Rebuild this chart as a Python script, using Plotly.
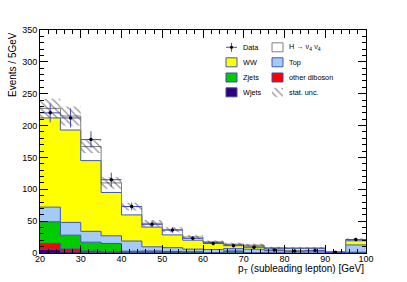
import plotly.graph_objects as go
import numpy as np

# ---------------- data ----------------
bin_edges = [20, 25, 30, 35, 40, 45, 50, 55, 60, 65, 70, 75, 80, 85, 90, 95, 100]
wjets    = [6, 1.5, 0.5, 0.3, 0.3, 0.2, 0.1, 0.1, 0.1, 0.1, 0.1, 0.0, 0.0, 0.0, 0.3, 0.5]
diboson  = [9, 5, 2.5, 1.7, 1.0, 0.5, 0.3, 0.2, 0.1, 0.1, 0.1, 0.1, 0.0, 0.0, 0.0, 0.2]
zjets    = [34, 21.5, 14, 13, 1.5, 2.5, 2, 1.8, 0.3, 3, 0.2, 0.2, 0.1, 0.1, 0.0, 0.5]
top      = [23, 20, 17, 12, 16, 6.5, 6, 4, 5, 3.7, 5.5, 3.3, 3, 3, 1, 11.5]
ww       = [140, 145, 111, 68, 41, 31, 20, 14, 11, 6, 5, 3.7, 4, 4, 0.3, 6.5]
higgs    = [15, 22, 22, 15, 13, 6, 8, 5, 1, 1, 1.5, 1, 1, 1, 0.3, 2]
stat_unc = [15, 15, 10, 9, 6, 5, 4, 3, 2, 2, 2, 1.5, 1, 1, 0.5, 2]
data     = [220, 212, 178, 115, 73, 45, 36, 23, 15, 11.5, 9, 4.7, 3, 4, 1, 21]
data_err = [15, 15, 13, 11, 6, 5, 4.5, 3.5, 3, 2.5, 2, 1.5, 1, 1.5, 1, 3]
x_ticks  = [20, 30, 40, 50, 60, 70, 80, 90, 100]
y_ticks  = [0, 50, 100, 150, 200, 250, 300, 350]

# ---------------- layout geometry ----------------
W, H = 407, 282
L, R, T, B = 40, 41, 30, 29
PW, PH = W - L - R, H - T - B
XMIN, XMAX, YMIN, YMAX = 20, 100, 0, 350

def px2paper(px, py):
    return (px - L) / PW, (H - B - py) / PH

def px2data(px, py):
    return XMIN + (px - L) / PW * (XMAX - XMIN), YMIN + (H - B - py) / PH * (YMAX - YMIN)

edges = np.array(bin_edges, dtype=float)
centers = (edges[:-1] + edges[1:]) / 2
halfw = (edges[1:] - edges[:-1]) / 2

def step(vals):
    v = list(vals)
    return v + [v[-1]]

HATCH = dict(shape="\\", fgcolor="#2a2a2a", bgcolor="rgba(0,0,0,0)", size=5, solidity=0.28)

fig = go.Figure()

layers = [
    ("Wjets", wjets, "#330077", "#3c4ca8"),
    ("other diboson", diboson, "#ff0000", "#3c4ca8"),
    ("Zjets", zjets, "#00cc00", "#3c4ca8"),
    ("Top", top, "#a3cbf5", "#3c5ab8"),
    ("WW", ww, "#ffff00", "#3c5ab8"),
    ("H", higgs, "#ffffff", "#808080"),
]
cum = np.zeros(len(centers))
for i, (name, vals, fc, lc) in enumerate(layers):
    cum = cum + np.array(vals, dtype=float)
    fig.add_trace(go.Scatter(
        x=edges, y=step(cum), mode="lines", line=dict(shape="hv", color=lc, width=1),
        fill="tozeroy" if i == 0 else "tonexty", fillcolor=fc, showlegend=False,
        hoverinfo="skip"))
total = cum

# stat uncertainty band (hatched)
lo = total - np.array(stat_unc)
hi = total + np.array(stat_unc)
fig.add_trace(go.Scatter(x=edges, y=step(lo), mode="lines",
                         line=dict(shape="hv", width=0, color="rgba(0,0,0,0)"),
                         showlegend=False, hoverinfo="skip"))
fig.add_trace(go.Scatter(x=edges, y=step(hi), mode="lines",
                         line=dict(shape="hv", width=0, color="rgba(0,0,0,0)"),
                         fill="tonexty", fillcolor="rgba(0,0,0,0)", fillpattern=HATCH,
                         showlegend=False, hoverinfo="skip"))

# data
fig.add_trace(go.Scatter(
    x=centers, y=data, mode="markers",
    marker=dict(color="black", size=3.5),
    error_x=dict(type="data", array=halfw, width=0, color="#4848c8", thickness=1),
    error_y=dict(type="data", array=data_err, width=0, color="#4848c8", thickness=1),
    showlegend=False, hoverinfo="skip"))

# ---------------- legend (manual) ----------------
shapes = []
annotations = []
FONT = "Liberation Sans, Arial, sans-serif"
rows = [47.3, 62.3, 77.5, 92.3]
col_box = [(226, 237), (272, 283)]
col_txt = [241, 287]
entries = [
    (0, 0, "Data", None, None),
    (1, 0, "H \u2192 \u03bd<sub>4</sub> \u03bd<sub>4</sub>", "#ffffff", "#808080"),
    (0, 1, "WW", "#ffff00", "#3c5ab8"),
    (1, 1, "Top", "#a3cbf5", "#3c5ab8"),
    (0, 2, "Zjets", "#00cc00", "#3c4ca8"),
    (1, 2, "other diboson", "#ff0000", "#3c4ca8"),
    (0, 3, "Wjets", "#330077", "#3c4ca8"),
    (1, 3, "stat. unc.", "hatch", None),
]
for col, row, label, fc, lc in entries:
    yc = rows[row]
    x0, x1 = col_box[col]
    if fc is None:
        a = px2paper(x0, yc); b = px2paper(x1, yc)
        shapes.append(dict(type="line", xref="paper", yref="paper", x0=a[0], y0=a[1], x1=b[0], y1=b[1],
                           line=dict(color="#4848c8", width=1)))
        xm = (x0 + x1) / 2
        a = px2paper(xm, yc - 4.5); b = px2paper(xm, yc + 4.5)
        shapes.append(dict(type="line", xref="paper", yref="paper", x0=a[0], y0=a[1], x1=b[0], y1=b[1],
                           line=dict(color="#4848c8", width=1)))
        a = px2paper(xm - 1.3, yc - 1.3); b = px2paper(xm + 1.3, yc + 1.3)
        shapes.append(dict(type="rect", xref="paper", yref="paper", x0=a[0], y0=b[1], x1=b[0], y1=a[1],
                           fillcolor="black", line=dict(width=0)))
    elif fc == "hatch":
        dx0, dy0 = px2data(x0, yc - 4.5)
        dx1, dy1 = px2data(x1, yc + 4.5)
        fig.add_trace(go.Scatter(
            x=[dx0, dx1, dx1, dx0, dx0], y=[dy0, dy0, dy1, dy1, dy0], mode="lines",
            line=dict(width=0, color="rgba(0,0,0,0)"), fill="toself", fillcolor="rgba(0,0,0,0)",
            fillpattern=HATCH, showlegend=False, hoverinfo="skip"))
    else:
        a = px2paper(x0, yc + 4.5); b = px2paper(x1, yc - 4.5)
        shapes.append(dict(type="rect", xref="paper", yref="paper", x0=a[0], y0=a[1], x1=b[0], y1=b[1],
                           fillcolor=fc, line=dict(color=lc, width=1)))
    tx, ty = px2paper(col_txt[col], yc)
    annotations.append(dict(text=label, x=tx, y=ty, xref="paper", yref="paper",
                            xanchor="left", yanchor="middle", showarrow=False,
                            font=dict(family=FONT, size=7.3, color="black")))

# axis titles
tx, ty = px2paper(12.5, 30)
annotations.append(dict(text="Events / 5GeV", x=tx, y=ty, xref="paper", yref="paper",
                        xanchor="center", yanchor="top", textangle=-90, showarrow=False,
                        font=dict(family=FONT, size=10, color="black")))
tx, ty = px2paper(366, 269)
annotations.append(dict(text="p<sub>T</sub> (subleading lepton) [GeV]", x=tx, y=ty,
                        xref="paper", yref="paper", xanchor="right", yanchor="middle",
                        showarrow=False, font=dict(family=FONT, size=10, color="black")))

axis_common = dict(showgrid=False, zeroline=False, showline=True, linecolor="black", linewidth=1,
                   mirror="allticks", ticks="inside", ticklen=8, tickcolor="black",
                   tickfont=dict(family=FONT, size=9, color="black"))
fig.update_layout(
    width=W, height=H, margin=dict(l=L, r=R, t=T, b=B),
    paper_bgcolor="white", plot_bgcolor="white",
    xaxis=dict(range=[XMIN, XMAX], tickvals=x_ticks, ticktext=[str(v) for v in x_ticks],
               ticklabelstandoff=-3,
               minor=dict(ticks="inside", ticklen=4, dtick=2, tickcolor="black"), **axis_common),
    yaxis=dict(range=[YMIN, YMAX], tickvals=y_ticks, ticktext=[str(v) for v in y_ticks],
               minor=dict(ticks="inside", ticklen=4, dtick=10, tickcolor="black"), **axis_common),
    shapes=shapes, annotations=annotations, showlegend=False,
)
fig.write_html("out.html", config={"displayModeBar": False},
               post_script="document.body.style.margin='0px';document.body.style.overflow='hidden';")
